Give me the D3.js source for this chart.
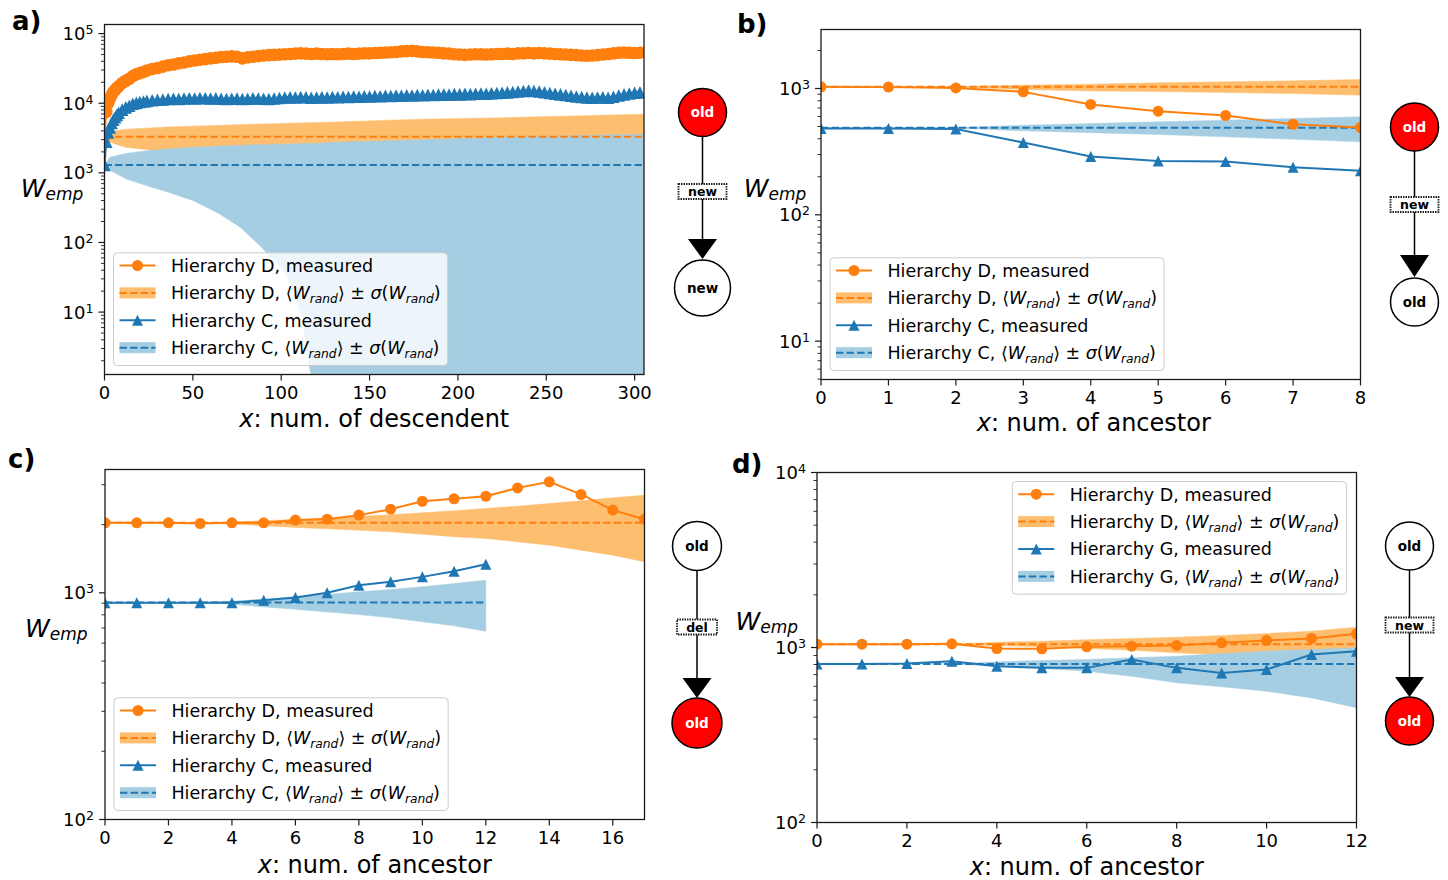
<!DOCTYPE html>
<html><head><meta charset="utf-8">
<script src="https://cdn.jsdelivr.net/npm/d3@7"></script>
<style>
body{margin:0;background:#fff;}
svg{display:block;font-family:"DejaVu Sans",sans-serif;}
</style></head><body>
<svg id="chart" width="1448" height="880"></svg>
<script>
// ---------------- DATA ----------------
// Panel a: x = num. of descendent
const aX = [0,1,2,3,4,5,6,7,8,10,12,14,16,18,20,22,24,27,30,33,36,39,42,45,48,51,54,57,60,63,66,69,72,75,78,81,84,87,90,93,96,99,102,105,108,111,114,117,120,123,126,129,132,135,138,141,144,147,150,153,156,159,162,165,168,171,174,177,180,183,186,189,192,195,198,201,204,207,210,213,216,219,222,225,228,231,234,237,240,243,246,249,252,255,258,261,264,267,270,273,276,279,282,285,288,291,294,297,300,303];
const aD = [3300,7500,10000,11500,13000,14500,15500,16500,17500,19500,21000,22500,24500,26000,27000,28000,29500,31000,32000,33500,35000,36000,37500,38500,40000,41000,42000,43000,44000,45000,46000,46500,47000,46500,44000,45500,46500,47500,48500,49000,49500,50000,50500,51000,51500,52000,51500,51000,51500,51000,50500,51000,50500,51000,51500,51000,51500,52000,52000,52500,53000,53500,54000,54500,55500,56000,56500,55500,54500,54000,53500,53000,52000,51500,50500,50000,49500,50000,50500,50500,50000,50500,51000,51000,51500,51000,52000,52000,52500,52000,52500,52000,51500,51000,50500,50000,49500,49000,48500,48000,48500,49000,50000,51000,52000,53000,53500,53000,52500,53000];
const aC = [1300,2800,3800,4500,5200,5800,6300,6800,7300,8100,8700,9200,9800,10100,10400,10600,10800,11000,11200,11300,11500,11600,11500,11700,11800,11700,11900,11800,11700,11800,11600,11500,11600,11700,11500,11600,11800,11700,11600,11500,11700,11900,12100,12200,12100,12300,12200,12000,12100,12200,12100,12300,12200,12400,12300,12500,12400,12600,12500,12700,12600,12800,12700,12900,12800,13000,12900,13100,13000,13200,13100,13300,13400,13300,13500,13400,13600,13500,13700,13800,13700,13900,14000,14100,14300,14500,14700,15000,15200,15000,14700,14400,14000,13700,13400,13100,12800,12500,12300,12100,12000,12100,12200,12000,12400,12900,13400,13800,14100,14300];
const aDBandX = [0,3,12,36,84,131,179,227,305];
const aDUp = [3300,3900,4230,4570,4990,5380,5900,6200,6950];
const aDLo = [3300,2750,2330,1990,1570,1180,660,360,0];
const aDMean = 3300;
const aCBandX = [0,3,12,24,36,50,65,77,89,103,112,116,117,131,179,227,305];
const aCUp = [1300,1670,1900,2080,2200,2330,2420,2480,2540,2600,2630,2640,2645,2750,2980,3240,3600];
const aCLo = [1300,1100,820,650,526,400,258,164,85,35,8.4,1.6,0,0,0,0,0];
const aCMean = 1300;
const aXTicks = [0,50,100,150,200,250,300];

// Panel b: x = num. of ancestor
const bX = [0,1,2,3,4,5,6,7,8];
const bD = [1030,1025,1010,940,747,661,611,521,491];
const bC = [482,482,477,373,289,267,264,238,223];
const bDUp = [1030,1030,1035,1062,1082,1108,1129,1149,1178];
const bDLo = [1030,1030,1025,981,957,946,929,912,885];
const bDMean = 1030;
const bCUp = [488,488,490,512,528,545,561,579,597];
const bCLo = [488,488,486,462,446,432,414,397,378];
const bCMean = 488;
const bXTicks = [0,1,2,3,4,5,6,7,8];

// Panel c
const cXD = [0,1,2,3,4,5,6,7,8,9,10,11,12,13,14,15,16,17];
const cD = [2036,2036,2036,2022,2036,2036,2093,2113,2202,2339,2535,2600,2667,2904,3090,2717,2317,2113];
const cDUp = [2036,2036,2036,2036,2055,2079,2108,2143,2179,2208,2254,2301,2356,2412,2477,2545,2626,2697];
const cDLo = [2036,2036,2036,2036,2010,1976,1943,1916,1890,1858,1814,1767,1738,1679,1623,1543,1466,1370];
const cDMean = 2036;
const cXC = [0,1,2,3,4,5,6,7,8,9,10,11,12];
const cC = [904,904,904,904,904,928,954,1000,1081,1118,1176,1246,1338];
const cCUp = [906,906,906,906,919,938,960,983,1010,1034,1063,1099,1137];
const cCLo = [906,906,906,906,891,867,847,824,802,776,745,715,677];
const cCMean = 906;
const cXTicks = [0,2,4,6,8,10,12,14,16];

// Panel d
const dX = [0,1,2,3,4,5,6,7,8,9,10,11,12];
const dD = [1045,1045,1045,1050,987,983,1009,1018,1027,1063,1097,1126,1197];
const dG = [806,806,810,835,782,765,765,854,765,716,748,912,953];
const dDUp = [1045,1045,1045,1045,1073,1087,1107,1126,1146,1171,1203,1240,1307];
const dDLo = [1045,1045,1045,1045,1027,1009,987,965,932,908,892,884,873];
const dDMean = 1045;
const dGUp = [806,806,806,806,828,843,854,873,892,924,953,974,996];
const dGLo = [806,806,806,806,782,758,732,685,628,596,562,515,452];
const dGMean = 806;
const dXTicks = [0,2,4,6,8,10,12];

const panelLabels = ["a)","b)","c)","d)"];
const xLabels = ["x: num. of descendent","x: num. of ancestor","x: num. of ancestor","x: num. of ancestor"];
const yLabel = "W_emp";
const legendA = ["Hierarchy D, measured","Hierarchy D, ⟨W_rand⟩ ± σ(W_rand)","Hierarchy C, measured","Hierarchy C, ⟨W_rand⟩ ± σ(W_rand)"];
const legendD = ["Hierarchy D, measured","Hierarchy D, ⟨W_rand⟩ ± σ(W_rand)","Hierarchy G, measured","Hierarchy G, ⟨W_rand⟩ ± σ(W_rand)"];
const diagTop = ["old","old","old","old"];
const diagEdge = ["new","new","del","new"];
const diagBottom = ["new","old","old","old"];
const diagRedIsTop = [true,true,false,false];

// ---------------- STYLE / LAYOUT ----------------
const C0="#1f77b4", C1="#ff7f0e", B0="#a6cee3", B1="#fdbf6f";
const svg = d3.select("#chart");
const AW = 539.5, AH = 350;

function richText(sel, str, size) {
  // italic W/σ, subscripts after "_"
  const parts = str.split(/(W_[a-z]+|σ)/).filter(p => p);
  const subSize = size * 0.7, subDy = size * 0.22;
  let pending = 0;
  parts.forEach(p => {
    if (p.startsWith("W_")) {
      sel.append("tspan").attr("font-style","italic").attr("font-size",size).attr("dy",pending).text("W");
      sel.append("tspan").attr("font-style","italic").attr("font-size",subSize).attr("dy",subDy).text(p.slice(2));
      pending = -subDy;
    } else {
      const t = sel.append("tspan").attr("font-size",size).attr("dy",pending).text(p);
      if (p === "σ") t.attr("font-style","italic");
      pending = 0;
    }
  });
}

function drawPanel(cfg, idx) {
  const g = svg.append("g");
  const L = cfg.left, T = cfg.top, R = L + AW, Bt = T + AH;
  const x = d3.scaleLinear().domain(cfg.xDomain).range([L, R]);
  const y = d3.scaleLog().domain(cfg.yDomain).range([Bt, T]);
  const ymin = cfg.yDomain[0];
  const yv = v => y(Math.max(v, ymin));
  const clipId = "clip" + idx;
  svg.append("clipPath").attr("id", clipId).append("rect")
    .attr("x", L).attr("y", T).attr("width", AW).attr("height", AH);
  const plot = g.append("g").attr("clip-path", `url(#${clipId})`);

  const area = d3.area().x(d => x(d.x)).y0(d => yv(d.lo)).y1(d => yv(d.hi));
  cfg.bands.forEach(b => {
    const pts = b.x.map((xv, i) => ({x: xv, lo: b.lo[i], hi: b.hi[i]}));
    plot.append("path").datum(pts).attr("d", area).attr("fill", b.fill).attr("stroke", b.fill).attr("stroke-width", 0.5);
  });
  cfg.bands.forEach(b => {
    const ends = [b.x[0], b.x[b.x.length - 1]];
    plot.append("path").datum(ends)
      .attr("d", d3.line().x(d => x(d)).y(() => y(b.mean)))
      .attr("stroke", b.color).attr("stroke-width", 2).attr("fill", "none")
      .attr("stroke-dasharray", "7.4,3.2");
  });
  cfg.series.forEach(s => {
    const pts = s.x.map((xv, i) => [xv, s.y[i]]);
    plot.append("path").datum(pts)
      .attr("d", d3.line().x(d => x(d[0])).y(d => y(d[1])))
      .attr("stroke", s.color).attr("stroke-width", 2).attr("fill", "none");
    const m = plot.append("g");
    pts.forEach(p => drawMarker(m, s.marker, x(p[0]), y(p[1]), s.color, cfg.msize));
  });

  // frame
  g.append("rect").attr("x", L).attr("y", T).attr("width", AW).attr("height", AH)
    .attr("fill", "none").attr("stroke", "#1a1a1a").attr("stroke-width", 1.3);

  // x ticks
  cfg.xTicks.forEach(t => {
    const xx = x(t);
    g.append("line").attr("x1", xx).attr("x2", xx).attr("y1", Bt).attr("y2", Bt + 6)
      .attr("stroke", "#1a1a1a").attr("stroke-width", 1.2);
    g.append("text").attr("x", xx).attr("y", Bt + 24.5).attr("text-anchor", "middle")
      .attr("font-size", 18).text(t);
  });
  // y ticks (log)
  y.ticks().forEach(t => {
    const lg = Math.log10(t);
    const major = Math.abs(lg - Math.round(lg)) < 1e-9;
    const yy = y(t);
    g.append("line").attr("x1", L).attr("x2", L - (major ? 6 : 3.5)).attr("y1", yy).attr("y2", yy)
      .attr("stroke", "#1a1a1a").attr("stroke-width", major ? 1.2 : 0.9);
    if (major) {
      const tx = g.append("text").attr("x", L - 11).attr("y", yy + 6.5).attr("text-anchor", "end");
      tx.append("tspan").attr("font-size", 18).text("10");
      tx.append("tspan").attr("font-size", 12.6).attr("dy", -6).text(Math.round(lg));
    }
  });

  // x label
  const xl = g.append("text").attr("x", L + AW / 2 + cfg.xlabOff).attr("y", cfg.xlabY).attr("text-anchor", "middle").attr("font-size", 24);
  xl.append("tspan").attr("font-style", "italic").text(xLabels[idx].slice(0, 1));
  xl.append("tspan").text(xLabels[idx].slice(1));

  // y label W_emp
  const yl = g.append("text").attr("x", cfg.ylab[0]).attr("y", cfg.ylab[1]);
  yl.append("tspan").attr("font-style", "italic").attr("font-size", 25).text(yLabel.split("_")[0]);
  yl.append("tspan").attr("font-style", "italic").attr("font-size", 17).attr("dy", 2.5).text(yLabel.split("_")[1]);

  // panel label
  svg.append("text").attr("x", cfg.plab[0]).attr("y", cfg.plab[1]).attr("font-size", 26)
    .attr("font-weight", "bold").text(panelLabels[idx]);

  drawLegend(g, cfg, L, T, R, Bt);
  drawDiagram(cfg.diag, idx);
}

function drawMarker(g, type, cx, cy, color, s) {
  if (type === "circle") {
    g.append("circle").attr("cx", cx).attr("cy", cy).attr("r", s).attr("fill", color);
  } else {
    g.append("path").attr("transform", `translate(${cx},${cy})`)
      .attr("d", `M0,${-s}L${s},${s}L${-s},${s}Z`).attr("fill", color);
  }
}

function drawLegend(g, cfg, L, T, R, Bt) {
  const lg = cfg.legend;
  const fh = 112.7;
  const lgG = g.append("g");
  const frame = lgG.append("rect").attr("rx", 4).attr("ry", 4)
    .attr("fill", "white").attr("fill-opacity", 0.8).attr("stroke", "#cccccc").attr("stroke-width", 1);
  const texts = [];
  lg.items.forEach((it, i) => {
    const cy = 12.7 + i * 27.4;
    const row = lgG.append("g").attr("transform", `translate(0,${cy})`);
    if (it.kind === "line") {
      row.append("line").attr("x1", 6).attr("x2", 42).attr("y1", 0).attr("y2", 0)
        .attr("stroke", it.color).attr("stroke-width", 2);
      drawMarker(row, it.marker, 24, 0, it.color, 5.5);
    } else {
      row.append("rect").attr("x", 6).attr("y", -5.5).attr("width", 36).attr("height", 11).attr("fill", it.fill);
      row.append("line").attr("x1", 6).attr("x2", 42).attr("y1", 0).attr("y2", 0)
        .attr("stroke", it.color).attr("stroke-width", 2).attr("stroke-dasharray", "7.4,3.2");
    }
    const t = row.append("text").attr("x", 57.4).attr("y", 6.3);
    richText(t, lg.labels[i], 17.5);
    texts.push(t);
  });
  const tw = d3.max(texts, t => t.node().getBBox().width);
  const fw = 57.4 + tw + 7;
  frame.attr("width", fw).attr("height", fh);
  let lx, ly;
  if (lg.loc === "lower left") { lx = L + 9; ly = Bt - 9 - fh; }
  else { lx = R - 10 - fw; ly = T + 9; }
  lgG.attr("transform", `translate(${lx},${ly})`);
}

function drawDiagram(d, idx) {
  const g = svg.append("g");
  const cx = d.cx;
  const redTop = diagRedIsTop[idx];
  g.append("line").attr("x1", cx).attr("x2", cx).attr("y1", d.topY + d.rTop).attr("y2", d.arrow[0])
    .attr("stroke", "black").attr("stroke-width", 1.5);
  g.append("path").attr("d", `M${cx - 14.5},${d.arrow[0]}L${cx + 14.5},${d.arrow[0]}L${cx},${d.arrow[1]}Z`).attr("fill", "black");
  g.append("rect").attr("x", cx - d.boxW / 2).attr("y", d.boxY - 7.5).attr("width", d.boxW).attr("height", 15)
    .attr("fill", "white").attr("stroke", "#222").attr("stroke-width", 1.8).attr("stroke-dasharray", "1.5,1");
  g.append("text").attr("x", cx).attr("y", d.boxY + 4.5).attr("text-anchor", "middle")
    .attr("font-size", 12.5).attr("font-weight", "bold").text(diagEdge[idx]);
  [[d.topY, d.rTop, diagTop[idx], redTop], [d.botY, d.rBot, diagBottom[idx], !redTop]].forEach(n => {
    g.append("circle").attr("cx", cx).attr("cy", n[0]).attr("r", n[1])
      .attr("fill", n[3] ? "#ff0000" : "white").attr("stroke", "black").attr("stroke-width", 1.5);
    g.append("text").attr("x", cx).attr("y", n[0] + 4.5).attr("text-anchor", "middle")
      .attr("font-size", 13.5).attr("font-weight", "bold").attr("fill", n[3] ? "white" : "black").text(n[2]);
  });
}

const legendItems = [
  {kind:"line", color:C1, marker:"circle"},
  {kind:"band", color:C1, fill:B1},
  {kind:"line", color:C0, marker:"triangle"},
  {kind:"band", color:C0, fill:B0}
];

const panels = [
  { left:104.5, top:24.5, xDomain:[0,305.3], yDomain:[1.27,1.35e5], xTicks:aXTicks, msize:6.3,
    bands:[{x:aDBandX, lo:aDLo, hi:aDUp, mean:aDMean, fill:B1, color:C1},
           {x:aCBandX, lo:aCLo, hi:aCUp, mean:aCMean, fill:B0, color:C0}],
    series:[{x:aX, y:aD, color:C1, marker:"circle"},{x:aX, y:aC, color:C0, marker:"triangle"}],
    legend:{loc:"lower left", labels:legendA, items:legendItems},
    xlabY:427, xlabOff:0, ylab:[20.7,197], plab:[12,30],
    diag:{cx:702.5, topY:112.5, rTop:24, botY:288, rBot:28, boxY:191.5, boxW:48, arrow:[239,259]} },
  { left:821, top:29.5, xDomain:[0,8], yDomain:[4.97,2930], xTicks:bXTicks, msize:5.5,
    bands:[{x:bX, lo:bDLo, hi:bDUp, mean:bDMean, fill:B1, color:C1},
           {x:bX, lo:bCLo, hi:bCUp, mean:bCMean, fill:B0, color:C0}],
    series:[{x:bX, y:bD, color:C1, marker:"circle"},{x:bX, y:bC, color:C0, marker:"triangle"}],
    legend:{loc:"lower left", labels:legendA, items:legendItems},
    xlabY:431, xlabOff:3, ylab:[743.7,197], plab:[737,33],
    diag:{cx:1414.5, topY:127, rTop:24, botY:302, rBot:24, boxY:204.5, boxW:48, arrow:[255,277]} },
  { left:105, top:469.5, xDomain:[0,17], yDomain:[100,3500], xTicks:cXTicks, msize:5.5,
    bands:[{x:cXD, lo:cDLo, hi:cDUp, mean:cDMean, fill:B1, color:C1},
           {x:cXC, lo:cCLo, hi:cCUp, mean:cCMean, fill:B0, color:C0}],
    series:[{x:cXD, y:cD, color:C1, marker:"circle"},{x:cXC, y:cC, color:C0, marker:"triangle"}],
    legend:{loc:"lower left", labels:legendA, items:legendItems},
    xlabY:873, xlabOff:0, ylab:[25,637], plab:[8,468],
    diag:{cx:697, topY:546, rTop:24.5, botY:723, rBot:25, boxY:627, boxW:40, arrow:[678,698]} },
  { left:817, top:472.5, xDomain:[0,12], yDomain:[100,10000], xTicks:dXTicks, msize:5.5,
    bands:[{x:dX, lo:dDLo, hi:dDUp, mean:dDMean, fill:B1, color:C1},
           {x:dX, lo:dGLo, hi:dGUp, mean:dGMean, fill:B0, color:C0}],
    series:[{x:dX, y:dD, color:C1, marker:"circle"},{x:dX, y:dG, color:C0, marker:"triangle"}],
    legend:{loc:"upper right", labels:legendD, items:legendItems},
    xlabY:875, xlabOff:0, ylab:[735.5,630], plab:[732,473],
    diag:{cx:1409.5, topY:546, rTop:24, botY:721, rBot:24, boxY:625, boxW:48, arrow:[677,697]} }
];

panels.forEach((p, i) => drawPanel(p, i));
</script>
</body></html>
